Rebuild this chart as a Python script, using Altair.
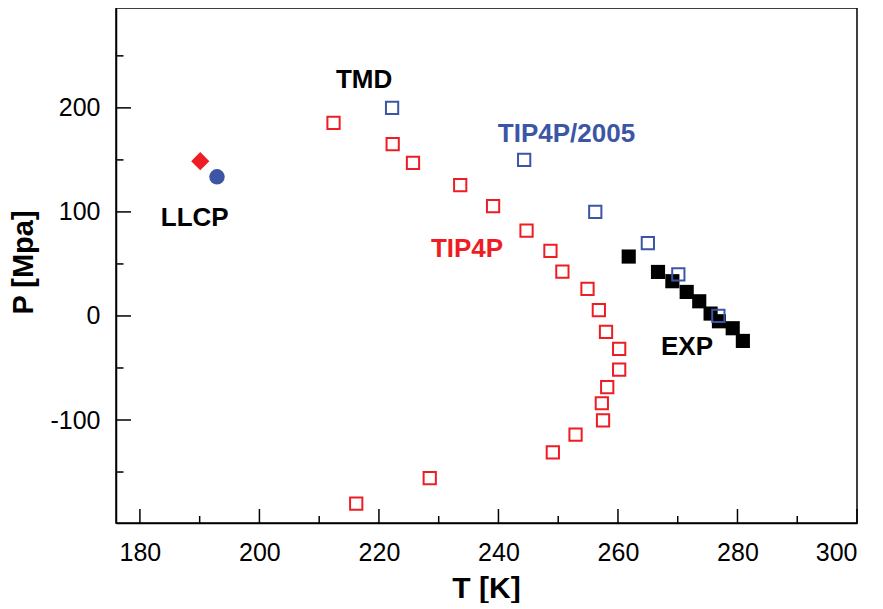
import altair as alt
import pandas as pd

RED = "#EE1D23"
BLUE = "#3C56A5"
FONT = "Liberation Sans"

# TMD line, TIP4P model (open red squares)
tip4p_T = [212.4, 222.3, 225.7, 233.6, 239.1, 244.7, 248.7, 250.7, 254.9, 256.8,
           258.0, 260.2, 260.2, 258.2, 257.3, 257.5, 252.9, 249.1, 228.5, 216.2]
tip4p_P = [185.6, 165.1, 147.1, 125.7, 105.5, 82.1, 62.5, 42.7, 26.0, 5.5,
           -15.2, -31.7, -51.5, -68.5, -83.9, -100.3, -114.1, -131.1, -155.8, -180.4]

# TMD line, TIP4P/2005 model (open blue squares)
t2005_T = [222.2, 244.3, 256.2, 265.0, 270.1, 276.8]
t2005_P = [200, 150, 100, 70, 40, 0]

# Experimental TMD (filled black squares)
exp_T = [261.8, 266.7, 269.1, 271.5, 273.6, 275.5, 276.9, 279.2, 280.9]
exp_P = [57.1, 42.3, 33.4, 23.1, 14.1, 2.3, -5.1, -11.8, -24.0]

# Liquid-liquid critical points
llcp_tip4p = (190.1, 148.8)
llcp_t2005 = (192.9, 133.7)

# Annotations
ann_text = ["TMD", "TIP4P/2005", "LLCP", "TIP4P", "EXP"]
ann_T = [212.8, 239.9, 183.5, 228.7, 267.2]
ann_P = [218.7, 167.3, 86.3, 56.7, -37.8]
ann_color = ["#000000", BLUE, "#000000", RED, "#000000"]

# Axis ticks
x_major = [180, 200, 220, 240, 260, 280, 300]
x_minor = [190, 210, 230, 250, 270, 290]
y_major = [-100, 0, 100, 200]
y_minor = [-150, -50, 50, 150, 250]

W, H = 741, 515
xs = alt.Scale(domain=[176, 300], nice=False, zero=False)
ys = alt.Scale(domain=[-199, 296], nice=False, zero=False)

x_axis = alt.Axis(values=x_major, title="T [K]", ticks=False, tickSize=0, grid=False,
                  labelFontSize=25, labelFont=FONT, labelColor="black", labelPadding=17,
                  domainColor="black", domainWidth=1.5,
                  titleFont=FONT, titleFontSize=30, titleFontWeight="bold", titleColor="black",
                  titleBaseline="alphabetic", titleY=74, titleX=370)
y_axis = alt.Axis(values=y_major, title="P [Mpa]", ticks=False, tickSize=0, grid=False,
                  labelFontSize=25, labelFont=FONT, labelColor="black", labelPadding=16,
                  labelExpr="replace(datum.label, '\u2212', '-')",
                  domainColor="black", domainWidth=1.5,
                  titleFont=FONT, titleFontSize=29, titleFontWeight="bold", titleColor="black",
                  titleBaseline="alphabetic", titleAngle=270, titleX=-84, titleY=254)

def X(field="T"):
    return alt.X(f"{field}:Q", scale=xs, axis=x_axis)

def Y(field="P"):
    return alt.Y(f"{field}:Q", scale=ys, axis=y_axis)

df_tip4p = pd.DataFrame({"T": tip4p_T, "P": tip4p_P})
df_2005 = pd.DataFrame({"T": t2005_T, "P": t2005_P})
df_exp = pd.DataFrame({"T": exp_T, "P": exp_P})
df_d = pd.DataFrame({"T": [llcp_tip4p[0]], "P": [llcp_tip4p[1]]})
df_c = pd.DataFrame({"T": [llcp_t2005[0]], "P": [llcp_t2005[1]]})
df_ann = pd.DataFrame({"T": ann_T, "P": ann_P, "label": ann_text, "c": ann_color})

red_sq = alt.Chart(df_tip4p).mark_point(shape="square", filled=False, stroke=RED,
                                         strokeWidth=2, size=150, opacity=1).encode(x=X(), y=Y())
exp_sq = alt.Chart(df_exp).mark_point(shape="square", filled=True, fill="black",
                                       strokeWidth=0, size=200, opacity=1).encode(x=X(), y=Y())
blue_sq = alt.Chart(df_2005).mark_point(shape="square", filled=False, stroke=BLUE,
                                         strokeWidth=2, size=150, opacity=1).encode(x=X(), y=Y())
diamond = alt.Chart(df_d).mark_point(shape="diamond", filled=True, fill=RED, strokeWidth=0,
                                      size=330, opacity=1).encode(x=X(), y=Y())
circle = alt.Chart(df_c).mark_point(shape="circle", filled=True, fill=BLUE, strokeWidth=0,
                                     size=240, opacity=1).encode(x=X(), y=Y())
texts = alt.Chart(df_ann).mark_text(font=FONT, fontSize=26, fontWeight="bold", align="left",
                                     baseline="alphabetic").encode(
    x=X(), y=Y(), text="label:N", color=alt.Color("c:N", scale=None))

df_xM = pd.DataFrame({"T": x_major})
df_xm = pd.DataFrame({"T": x_minor})
df_yM = pd.DataFrame({"P": y_major})
df_ym = pd.DataFrame({"P": y_minor})
tick_style = dict(color="black", strokeWidth=1.5)
xM = alt.Chart(df_xM).mark_rule(**tick_style).encode(x=X(), y=alt.value(H), y2=alt.value(H - 14))
xm = alt.Chart(df_xm).mark_rule(**tick_style).encode(x=X(), y=alt.value(H), y2=alt.value(H - 7))
yM = alt.Chart(df_yM).mark_rule(**tick_style).encode(y=Y(), x=alt.value(0), x2=alt.value(15))
ym = alt.Chart(df_ym).mark_rule(**tick_style).encode(y=Y(), x=alt.value(0), x2=alt.value(7.5))

chart = alt.layer(red_sq, xM, xm, yM, ym, exp_sq, blue_sq, diamond, circle, texts).properties(
    width=W, height=H,
    autosize=alt.AutoSizeParams(type="none"),
    padding={"left": 108, "top": 0, "right": 12, "bottom": 80},
).configure(background="white").configure_view(stroke="black", strokeWidth=1.5)

chart.save("out.html", embed_options={"renderer": "svg", "actions": False})
